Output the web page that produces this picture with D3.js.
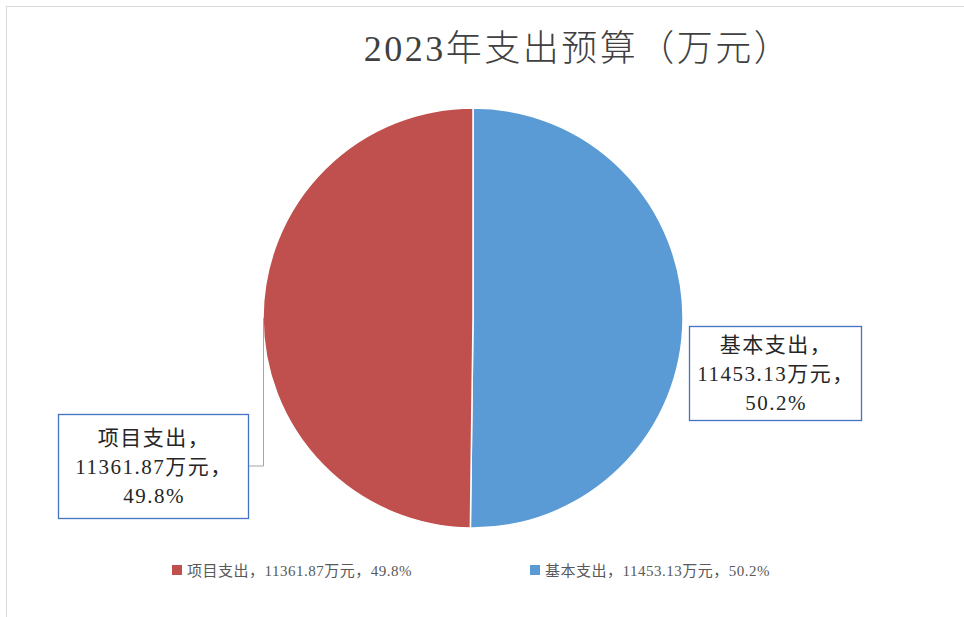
<!DOCTYPE html>
<html>
<head>
<meta charset="utf-8">
<script src="https://d3js.org/d3.v7.min.js"></script>
<style>
  body { margin: 0; background: #fff; }
  text { font-family: "Liberation Serif", "DejaVu Serif", "Noto Sans CJK SC", serif; }
</style>
</head>
<body>
<script>
const categories = ["基本支出", "项目支出"]
const values = [11453.13, 11361.87]
const colors = ["#5B9BD5", "#C0504D"]
const legendOrder = ["项目支出", "基本支出"]

const w = 964, h = 617
const cx = 473, cy = 318, r = 210

const total = d3.sum(values)
const pct = v => (v / total * 100).toFixed(1) + "%"
const labelLines = (c, v) => [c + "，", v.toFixed(2) + "万元，", pct(v)]

const svg = d3.select("body").append("svg")
  .attr("width", w).attr("height", h)

// chart frame
svg.append("rect")
  .attr("x", 6.5).attr("y", 6.5)
  .attr("width", w - 6).attr("height", h - 6)
  .attr("fill", "#fff").attr("stroke", "#d9d9d9")

svg.append("text")
  .attr("x", 578).attr("y", 61)
  .attr("text-anchor", "middle")
  .attr("font-size", 36).attr("letter-spacing", 2.5)
  .attr("font-weight", 300).attr("fill", "#404040")
  .text("2023年支出预算（万元）")

const pie = d3.pie().sort(null).value(d => d.v)
const arcs = pie(categories.map((c, i) => ({ c, v: values[i], color: colors[i] })))
const arc = d3.arc().innerRadius(0).outerRadius(r)

const g = svg.append("g").attr("transform", `translate(${cx},${cy})`)
g.selectAll("path").data(arcs).enter().append("path")
  .attr("d", arc)
  .attr("fill", d => d.data.color)
  .attr("stroke", "#fff").attr("stroke-width", 1.5)

// data label boxes
const boxes = {
  "基本支出": { x: 689, y: 326, w: 172, h: 94 },
  "项目支出": { x: 58, y: 414, w: 190, h: 104 }
}

// leader line for the left label
const lb = boxes["项目支出"]
svg.append("path")
  .attr("d", `M${cx - r + 0.5},${cy} V${lb.y + lb.h / 2} H${lb.x + lb.w}`)
  .attr("fill", "none").attr("stroke", "#a6a6a6").attr("stroke-width", 1)

arcs.forEach(d => {
  const b = boxes[d.data.c]
  svg.append("rect")
    .attr("x", b.x + 0.5).attr("y", b.y + 0.5)
    .attr("width", b.w).attr("height", b.h)
    .attr("fill", "#fff").attr("stroke", "#4472C4").attr("stroke-width", 1.3)
  const lines = labelLines(d.data.c, d.data.v)
  const lh = 29
  svg.append("text")
    .attr("text-anchor", "middle")
    .attr("font-size", 21).attr("letter-spacing", 1.5).attr("fill", "#262626")
    .selectAll("tspan").data(lines).enter().append("tspan")
    .attr("x", b.x + b.w / 2 + 1)
    .attr("y", (t, i) => b.y + b.h / 2 - lh + 8 + i * lh)
    .text(t => t)
})

// legend
const legendX = [172, 530]
const lg = svg.append("g")
legendOrder.forEach((c, i) => {
  const k = categories.indexOf(c)
  const item = lg.append("g").attr("transform", `translate(${legendX[i]},570)`)
  item.append("rect").attr("x", 0).attr("y", -5).attr("width", 10).attr("height", 10)
    .attr("fill", colors[k])
  item.append("text").attr("x", 15).attr("y", 5.5)
    .attr("font-size", 15).attr("letter-spacing", 0.5).attr("fill", "#595959")
    .text(labelLines(c, values[k]).join(""))
})
</script>
</body>
</html>
